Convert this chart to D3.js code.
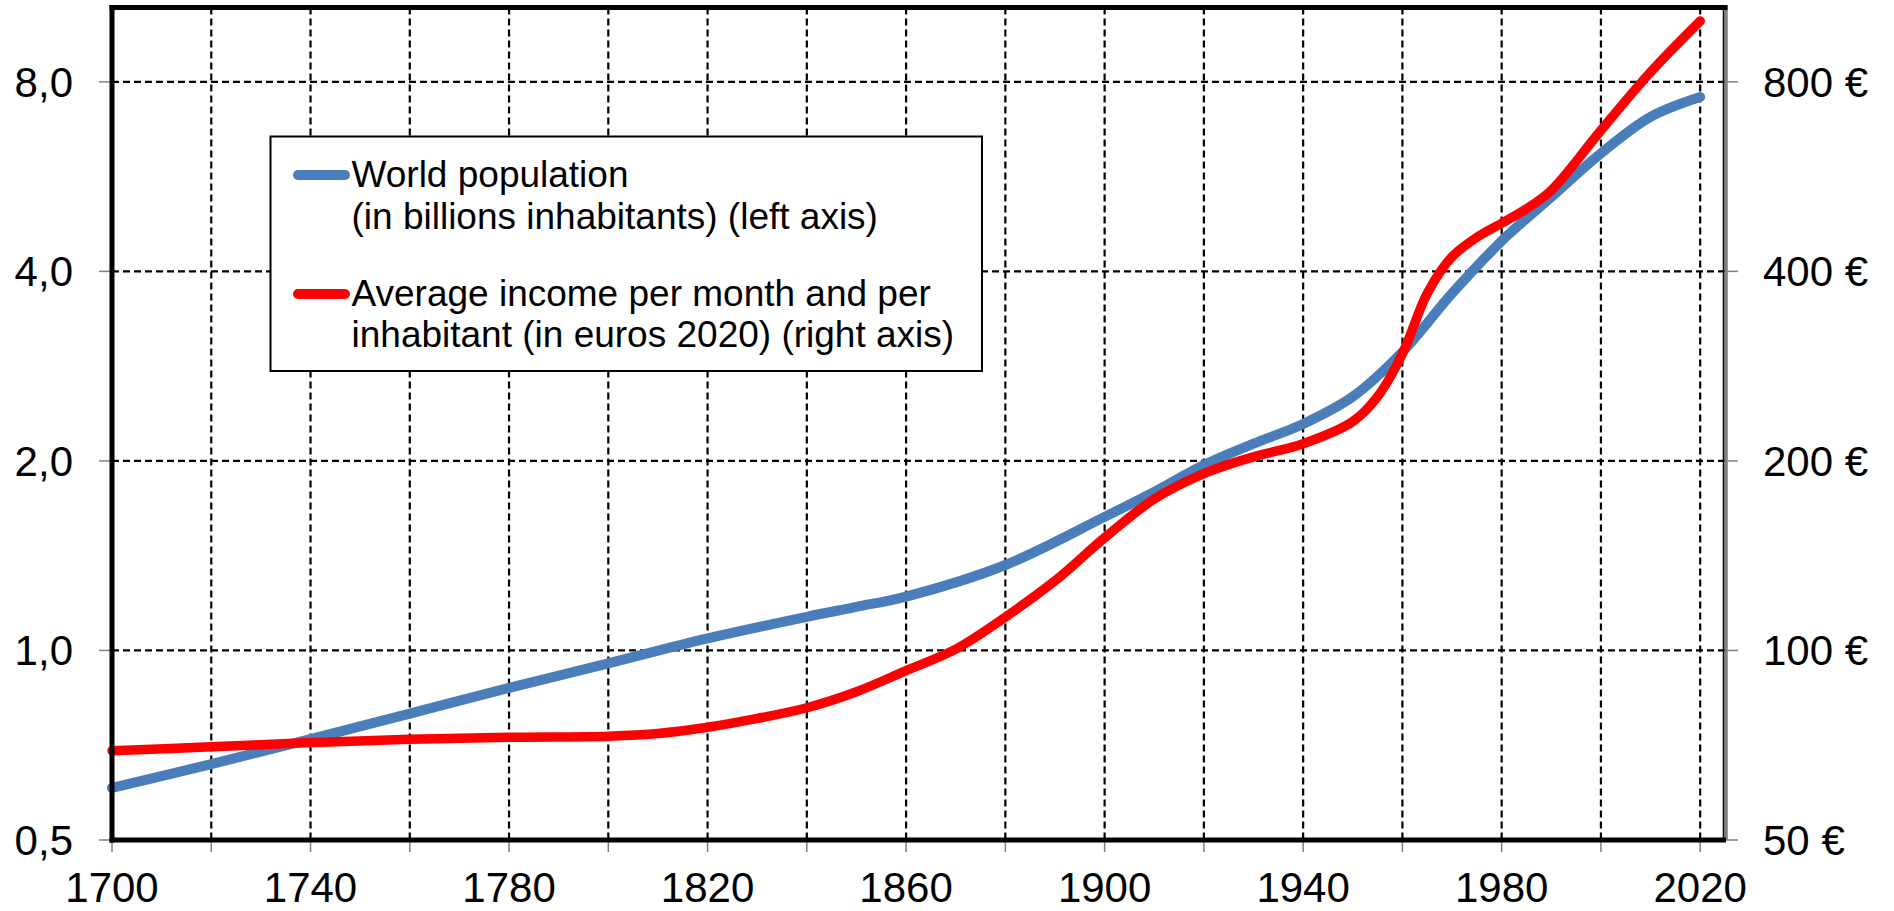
<!DOCTYPE html>
<html>
<head>
<meta charset="utf-8">
<script src="https://cdn.jsdelivr.net/npm/d3@7"></script>
<style>
  html, body { margin: 0; padding: 0; background: #fff; }
  svg { display: block; }
  text { font-family: "Liberation Sans", Arial, sans-serif; fill: #000; }
</style>
</head>
<body>
<svg id="chart" width="1894" height="911"></svg>
<script>
// ---- data ----
const popYears = [1700,1720,1740,1760,1780,1800,1820,1840,1850,1860,1880,1900,1910,1920,1930,1940,1950,1960,1970,1980,1990,2000,2010,2020];
const population = [0.605,0.660,0.723,0.794,0.872,0.954,1.045,1.131,1.173,1.218,1.367,1.630,1.786,1.970,2.13,2.29,2.53,2.98,3.69,4.47,5.25,6.16,7.04,7.57];

const incomeYears = [1700,1720,1740,1760,1780,1800,1810,1820,1830,1840,1850,1860,1870,1880,1890,1900,1910,1920,1930,1940,1950,1955,1960,1965,1970,1975,1980,1985,1990,2000,2010,2020];
const income = [69.3,70.3,71.4,72.3,72.8,73.1,73.8,75.5,78.0,81.1,86.0,92.9,100.5,113,129,151,174,191,203,213,231,253,296,369,422,453,477,503,538,670,829,999];

const leftTicks = [0.5, 1, 2, 4, 8];
const leftTickLabels = ["0,5", "1,0", "2,0", "4,0", "8,0"];
const rightTicks = [50, 100, 200, 400, 800];
const rightTickLabels = ["50 €", "100 €", "200 €", "400 €", "800 €"];
const xGridYears = [1720,1740,1760,1780,1800,1820,1840,1860,1880,1900,1920,1940,1960,1980,2000,2020];
const xTickYears = [1700,1720,1740,1760,1780,1800,1820,1840,1860,1880,1900,1920,1940,1960,1980,2000,2020];
const xLabelYears = [1700,1740,1780,1820,1860,1900,1940,1980,2020];

const legendLines = [
  ["World population", "(in billions inhabitants) (left axis)"],
  ["Average income per month and per", "inhabitant (in euros 2020) (right axis)"]
];
const seriesColors = ["#4A7EBB", "#FF0000"];

// ---- layout ----
const L = 112, R = 1725, T = 7.5, B = 840;

const svg = d3.select("#chart");

const x = d3.scaleLinear().domain([1700, 2025]).range([L, R]);
const yL = d3.scaleLog().base(2).domain([0.5, 10.5]).range([B, T]);
const yR = d3.scaleLog().base(2).domain([50, 1050]).range([B, T]);

// gridlines
const grid = svg.append("g");
grid.selectAll("line.v").data(xGridYears).join("line")
  .attr("x1", d => x(d)).attr("x2", d => x(d))
  .attr("y1", T).attr("y2", B)
  .attr("stroke", "#000").attr("stroke-width", 2.2).attr("stroke-dasharray", "7,4");
grid.selectAll("line.h").data(leftTicks.slice(1)).join("line")
  .attr("x1", L).attr("x2", R)
  .attr("y1", d => yL(d)).attr("y2", d => yL(d))
  .attr("stroke", "#000").attr("stroke-width", 2.2).attr("stroke-dasharray", "7,4");

// tick marks (gray)
const tickG = svg.append("g").attr("stroke", "#808080").attr("stroke-width", 1.5);
tickG.selectAll("line.l").data(leftTicks).join("line")
  .attr("x1", L - 13).attr("x2", L).attr("y1", d => yL(d)).attr("y2", d => yL(d));
tickG.selectAll("line.r").data(rightTicks).join("line")
  .attr("x1", R).attr("x2", R + 13).attr("y1", d => yR(d)).attr("y2", d => yR(d));
tickG.selectAll("line.b").data(xTickYears).join("line")
  .attr("x1", d => x(d)).attr("x2", d => x(d)).attr("y1", B).attr("y2", B + 12);

// series lines
const lineP = d3.line().x((d, i) => x(popYears[i])).y(d => yL(d)).curve(d3.curveCatmullRom.alpha(0.5));
const lineI = d3.line().x((d, i) => x(incomeYears[i])).y(d => yR(d)).curve(d3.curveCatmullRom.alpha(0.5));

svg.append("path").datum(population).attr("d", lineP)
  .attr("fill", "none").attr("stroke", seriesColors[0]).attr("stroke-width", 10)
  .attr("stroke-linecap", "round").attr("stroke-linejoin", "round");
svg.append("path").datum(income).attr("d", lineI)
  .attr("fill", "none").attr("stroke", seriesColors[1]).attr("stroke-width", 9.5)
  .attr("stroke-linecap", "round").attr("stroke-linejoin", "round");

// plot border
svg.append("line").attr("x1", R + 1).attr("x2", R + 1).attr("y1", T - 2).attr("y2", B)
  .attr("stroke", "#808080").attr("stroke-width", 3.5);
svg.append("line").attr("x1", R - 1.5).attr("x2", R - 1.5).attr("y1", T).attr("y2", B)
  .attr("stroke", "#000").attr("stroke-width", 1.5);
svg.append("line").attr("x1", L - 2.5).attr("x2", R + 2.5).attr("y1", T).attr("y2", T)
  .attr("stroke", "#000").attr("stroke-width", 5);
svg.append("line").attr("x1", L).attr("x2", L).attr("y1", T - 2.5).attr("y2", B + 2.5)
  .attr("stroke", "#000").attr("stroke-width", 5);
svg.append("line").attr("x1", L - 2.5).attr("x2", R + 1).attr("y1", B).attr("y2", B)
  .attr("stroke", "#000").attr("stroke-width", 5);

// axis labels
svg.append("g").selectAll("text").data(leftTicks).join("text")
  .attr("x", 73).attr("y", d => yL(d) + 15)
  .attr("text-anchor", "end").attr("font-size", 42)
  .text((d, i) => leftTickLabels[i]);
svg.append("g").selectAll("text").data(rightTicks).join("text")
  .attr("x", 1763).attr("y", d => yR(d) + 15)
  .attr("text-anchor", "start").attr("font-size", 42)
  .text((d, i) => rightTickLabels[i]);
svg.append("g").selectAll("text").data(xLabelYears).join("text")
  .attr("x", d => x(d)).attr("y", 902)
  .attr("text-anchor", "middle").attr("font-size", 42)
  .text(d => d);

// legend
const lg = svg.append("g");
lg.append("rect").attr("x", 270.5).attr("y", 136.5).attr("width", 711.5).attr("height", 234.5)
  .attr("fill", "#fff").attr("stroke", "#000").attr("stroke-width", 2);
const symY = [175, 294];
const baseY = [[187, 228.5], [305.5, 347]];
legendLines.forEach((lines, k) => {
  lg.append("line").attr("x1", 298).attr("x2", 345).attr("y1", symY[k]).attr("y2", symY[k])
    .attr("stroke", seriesColors[k]).attr("stroke-width", 10).attr("stroke-linecap", "round");
  lines.forEach((t, j) => {
    lg.append("text").attr("x", 351.5).attr("y", baseY[k][j]).attr("font-size", 37).text(t);
  });
});
</script>
</body>
</html>
